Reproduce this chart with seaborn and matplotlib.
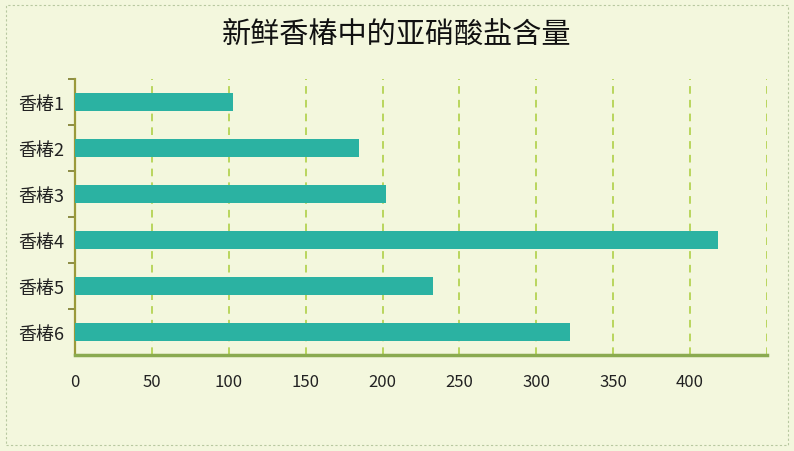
import numpy as np
import matplotlib
matplotlib.use("Agg")
import matplotlib.pyplot as plt
import seaborn as sns
import pandas as pd

categories = ["香椿1", "香椿2", "香椿3", "香椿4", "香椿5", "香椿6"]
values = [103, 185, 202, 418, 233, 322]
xticks = [0, 50, 100, 150, 200, 250, 300, 350, 400]

sns.set_theme(style="white")
plt.rcParams["font.family"] = ["Noto Sans CJK SC", "DejaVu Sans"]

bg = "#f3f7dd"
fig = plt.figure(figsize=(7.94, 4.52), dpi=100, facecolor=bg)
ax = fig.add_axes([75 / 794, 1 - 356 / 452, 692 / 794, 276 / 452])
ax.set_facecolor(bg)

df = pd.DataFrame({"name": categories, "value": values})
sns.barplot(data=df, x="value", y="name", orient="h", color="#2bb2a2",
            saturation=1, width=0.37, linewidth=0, ax=ax, zorder=3)

ax.set_xlim(0, 450)
ax.set_ylim(5.5, -0.5)
ax.set_xticks(xticks)
ax.set_xticklabels([str(t) for t in xticks], fontsize=12, color="#222222")
ax.tick_params(axis="x", length=0, pad=13)
for x in range(50, 451, 50):
    ax.axvline(x, color="#a9cc3a", lw=1.1, ls=(0, (5, 4)), zorder=1)
ax.set_yticks(range(len(categories)))
ax.set_yticklabels(categories, fontsize=13, color="#222222")
ax.tick_params(axis="y", length=0, pad=8)
ax.set_yticks(np.arange(-0.5, 5.5, 1), minor=True)
ax.tick_params(axis="y", which="minor", length=5, width=1.2, color="#7a7a2a", left=True)

for s in ["top", "right"]:
    ax.spines[s].set_visible(False)
ax.spines["left"].set_color("#9a9a3a")
ax.spines["left"].set_linewidth(1.6)
ax.spines["bottom"].set_color("#8aaa50")
ax.spines["bottom"].set_linewidth(2.5)
ax.set_xlabel("")
ax.set_ylabel("")

fig.text(0.5, 1 - 35 / 452, "新鲜香椿中的亚硝酸盐含量", ha="center", va="center",
         fontsize=21, color="#111111")

border = plt.Rectangle((6 / 794, 6 / 452), 1 - 12 / 794, 1 - 12 / 452,
                       transform=fig.transFigure, fill=False,
                       ec="#b8c8a0", lw=0.8, ls=(0, (2, 2)))
fig.patches.append(border)

fig.savefig("out.png", dpi=100, facecolor=bg)
